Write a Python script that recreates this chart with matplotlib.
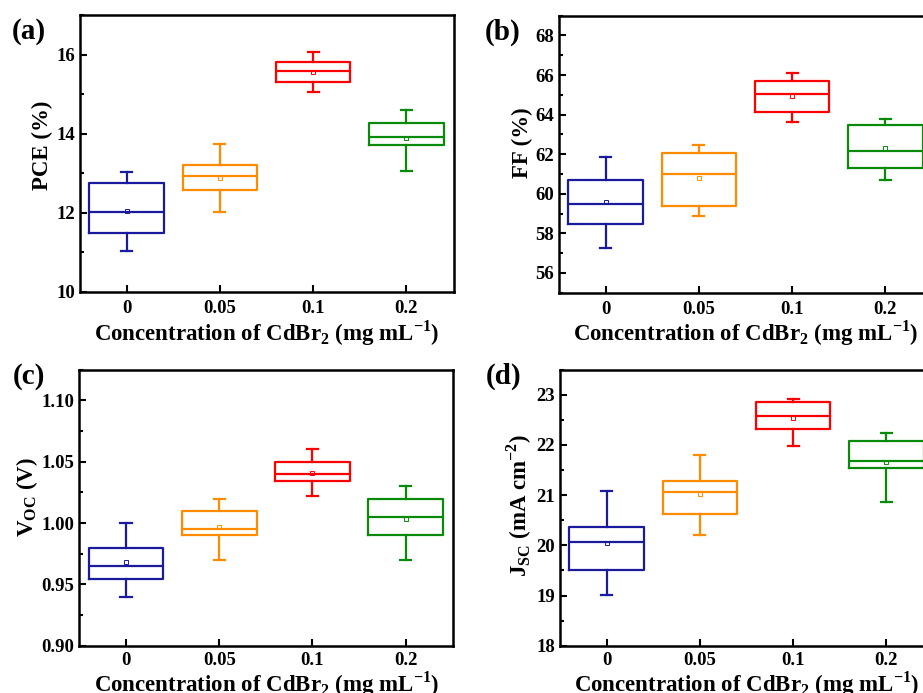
import numpy as np
import matplotlib.pyplot as plt
from matplotlib.ticker import MultipleLocator

plt.rcParams['font.family'] = 'Liberation Serif'
plt.rcParams['font.weight'] = 'bold'
plt.rcParams['axes.labelweight'] = 'bold'

# Concentraciones de CdBr2 (mg mL-1)
concentraciones = ['0', '0.05', '0.1', '0.2']
colores = ['#1a1a9c', '#ff8c00', '#ff0000', '#0a8a0a']

# Estadísticas por concentración: [bigote inf, Q1, mediana, Q3, bigote sup], media
pce_cajas = [[11.03, 11.49, 12.02, 12.75, 13.03],
             [12.03, 12.59, 12.92, 13.22, 13.75],
             [15.05, 15.30, 15.58, 15.82, 16.06],
             [13.05, 13.72, 13.92, 14.28, 14.61]]
pce_media = [12.05, 12.88, 15.55, 13.90]

ff_cajas = [[57.27, 58.46, 59.49, 60.69, 61.85],
            [58.90, 59.39, 61.02, 62.07, 62.47],
            [63.63, 64.12, 65.03, 65.71, 66.12],
            [60.71, 61.30, 62.15, 63.49, 63.80]]
ff_media = [59.60, 60.78, 64.95, 62.30]

voc_cajas = [[0.940, 0.954, 0.965, 0.980, 1.000],
             [0.970, 0.990, 0.995, 1.010, 1.020],
             [1.022, 1.034, 1.040, 1.050, 1.060],
             [0.970, 0.990, 1.005, 1.020, 1.030]]
voc_media = [0.968, 0.997, 1.041, 1.003]

jsc_cajas = [[19.02, 19.51, 20.07, 20.37, 21.09],
             [20.21, 20.63, 21.07, 21.29, 21.80],
             [21.98, 22.31, 22.58, 22.85, 22.92],
             [20.87, 21.55, 21.69, 22.07, 22.24]]
jsc_media = [20.05, 21.03, 22.54, 21.66]

xlabel = r'Concentration of CdBr$_\mathregular{2}$ (mg mL$^\mathregular{-1}$)'

fig = plt.figure(figsize=(9.23, 6.93), dpi=100)
w = 374 / 923
h_top = 277 / 693
h_bot = 276 / 693
paneles = [
    # (posición, cajas, medias, ylim, paso mayor, ylabel, coords ylabel, letra, coords letra, pads)
    ([80 / 923, 401 / 693, w, h_top], pce_cajas, pce_media, (10, 17), 2, 'PCE (%)',
     (-0.10, 0.53), '(a)', (-0.136, 0.94), (6, 0.5)),
    ([559 / 923, 400.3 / 693, w, h_top], ff_cajas, ff_media, (55, 69), 2, 'FF (%)',
     (-0.098, 0.54), '(b)', (-0.15, 0.94), (6, 0.5)),
    ([79.3 / 923, 47.3 / 693, w, h_bot], voc_cajas, voc_media, (0.90, 1.125), 0.05,
     r'V$_\mathregular{OC}$ (V)', (-0.14, 0.54), '(c)', (-0.134, 0.977), (4.5, 0)),
    ([560 / 923, 47.3 / 693, w, h_bot], jsc_cajas, jsc_media, (18, 23.5), 1,
     r'J$_\mathregular{SC}$ (mA cm$^\mathregular{-2}$)', (-0.108, 0.51), '(d)', (-0.152, 0.977), (4.5, 0)),
]

for pos, cajas, medias, ylim, paso, ylab, ycoords, letra, lcoords, pads in paneles:
    ax = fig.add_axes(pos)
    stats = []
    for c, m in zip(cajas, medias):
        stats.append({'whislo': c[0], 'q1': c[1], 'med': c[2], 'q3': c[3],
                      'whishi': c[4], 'mean': m, 'fliers': []})
    x = np.arange(1, len(concentraciones) + 1)
    for i in range(len(stats)):
        col = colores[i]
        ax.bxp([stats[i]], positions=[x[i]], widths=0.8, capwidths=0.12,
               showmeans=True, manage_ticks=False,
               boxprops=dict(color=col, lw=1.6),
               medianprops=dict(color=col, lw=1.6),
               whiskerprops=dict(color=col, lw=1.6),
               capprops=dict(color=col, lw=1.6),
               meanprops=dict(marker='s', markersize=3, markerfacecolor='none',
                              markeredgecolor=col, markeredgewidth=0.7))
    ax.set_xlim(0.5, 4.51)
    ax.set_ylim(*ylim)
    ax.set_xticks(x)
    ax.set_xticklabels(concentraciones)
    ax.yaxis.set_major_locator(MultipleLocator(paso))
    ax.yaxis.set_minor_locator(MultipleLocator(paso / 2))
    if paso < 1:
        ax.yaxis.set_major_formatter(plt.FormatStrFormatter('%.2f'))
    ax.tick_params(axis='both', which='major', direction='in', length=5, width=1.5,
                   labelsize=13.5, top=False, right=False)
    ax.tick_params(axis='both', which='minor', direction='in', length=3, width=1.5,
                   top=False, right=False)
    ax.tick_params(axis='x', which='minor', bottom=False)
    ax.tick_params(axis='x', pad=pads[0])
    for lab in ax.get_xticklabels() + ax.get_yticklabels():
        lab.set_fontweight('bold')
    for s in ax.spines.values():
        s.set_linewidth(1.8)
    ax.set_xlabel(xlabel, fontsize=16.5, labelpad=pads[1])
    ax.set_ylabel(ylab, fontsize=16.5)
    ax.yaxis.label.set_va('center')
    ax.yaxis.set_label_coords(*ycoords)
    ax.text(lcoords[0], lcoords[1], letra, transform=ax.transAxes, fontsize=21,
            fontweight='bold', ha='center', va='center')

fig.savefig('out.png', dpi=100)
